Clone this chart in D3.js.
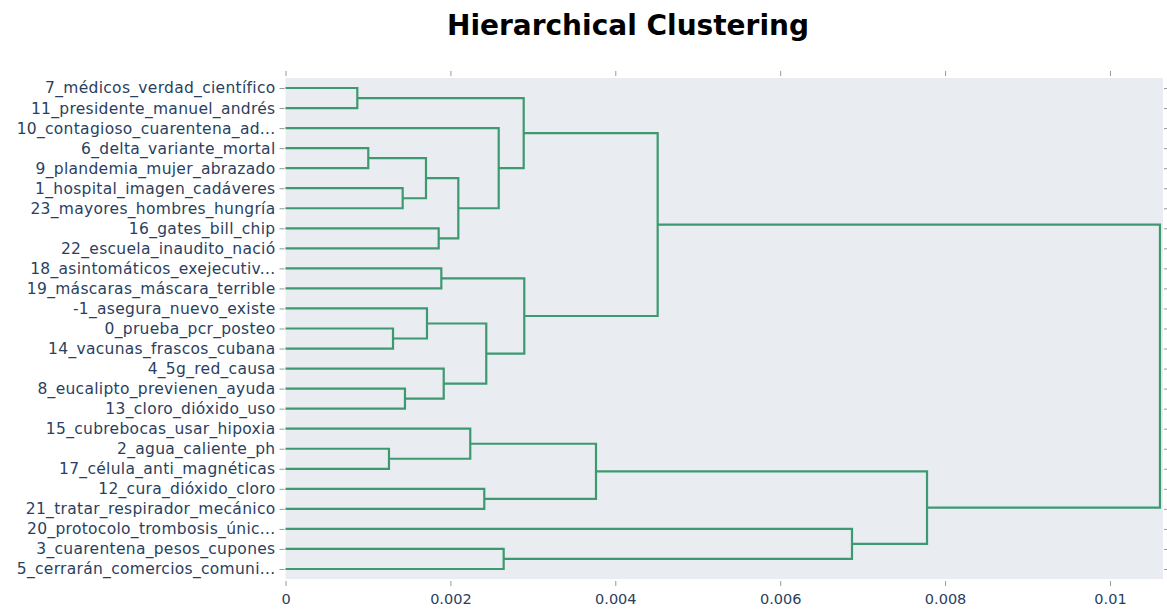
<!DOCTYPE html>
<html>
<head>
<meta charset="utf-8">
<script src="https://cdn.jsdelivr.net/npm/d3@7"></script>
<style>
  body { margin: 0; background: #fff; }
  text { font-family: "DejaVu Sans", Verdana, sans-serif; }
</style>
</head>
<body>
<div id="chart"></div>
<script>
// hojas del dendrograma, de arriba hacia abajo
const leaves = [
  "7_médicos_verdad_científico",
  "11_presidente_manuel_andrés",
  "10_contagioso_cuarentena_ad...",
  "6_delta_variante_mortal",
  "9_plandemia_mujer_abrazado",
  "1_hospital_imagen_cadáveres",
  "23_mayores_hombres_hungría",
  "16_gates_bill_chip",
  "22_escuela_inaudito_nació",
  "18_asintomáticos_exejecutiv...",
  "19_máscaras_máscara_terrible",
  "-1_asegura_nuevo_existe",
  "0_prueba_pcr_posteo",
  "14_vacunas_frascos_cubana",
  "4_5g_red_causa",
  "8_eucalipto_previenen_ayuda",
  "13_cloro_dióxido_uso",
  "15_cubrebocas_usar_hipoxia",
  "2_agua_caliente_ph",
  "17_célula_anti_magnéticas",
  "12_cura_dióxido_cloro",
  "21_tratar_respirador_mecánico",
  "20_protocolo_trombosis_únic...",
  "3_cuarentena_pesos_cupones",
  "5_cerrarán_comercios_comuni..."
];

// fusiones : [enfant1, enfant2] (indice feuille ou 25 + n° de fusion)
const mergeChildren = [
  [0, 1], [3, 4], [5, 6], [26, 27], [7, 8], [28, 29], [2, 30], [25, 31],
  [9, 10], [12, 13], [11, 34], [15, 16], [14, 36], [35, 37], [33, 38], [32, 39],
  [18, 19], [17, 41], [20, 21], [42, 43], [23, 24], [22, 45], [44, 46], [40, 47]
];
// distance de chaque fusion
const mergeHeights = [
  0.000871, 0.001004, 0.001421, 0.001704, 0.001858, 0.002096, 0.002586, 0.002889,
  0.001890, 0.001304, 0.001716, 0.001449, 0.001919, 0.002435, 0.002896, 0.004514,
  0.001255, 0.002241, 0.002411, 0.003766, 0.002646, 0.006871, 0.007781, 0.010606
];

const xTicks = [0, 0.002, 0.004, 0.006, 0.008, 0.01];

const W = 1167, H = 609;
const margin = { top: 78, right: 4, bottom: 30, left: 285.5 };
const plotW = W - margin.left - margin.right;
const plotH = H - margin.top - margin.bottom;

const svg = d3.select("#chart").append("svg")
  .attr("width", W)
  .attr("height", H);

svg.append("text")
  .attr("x", 628)
  .attr("y", 35)
  .attr("text-anchor", "middle")
  .style("font-size", "28px")
  .style("font-weight", "bold")
  .style("fill", "#000")
  .text("Hierarchical Clustering");

const g = svg.append("g")
  .attr("transform", `translate(${margin.left},${margin.top})`);

g.append("rect")
  .attr("width", plotW)
  .attr("height", plotH)
  .attr("fill", "#E9EDF1");

// échelles
const xScale = d3.scaleLinear()
  .domain([0, 0.010643])
  .range([0, plotW]);

const yScale = d3.scalePoint()
  .domain(leaves)
  .range([0, plotH])
  .padding(0.5);

// positions des noeuds
const nodeX = leaves.map(() => 0);
const nodeY = leaves.map(d => yScale(d));
mergeChildren.forEach((c, i) => {
  nodeX.push(mergeHeights[i]);
  nodeY.push((nodeY[c[0]] + nodeY[c[1]]) / 2);
});

// liens en U
const links = mergeChildren.map((c, i) => {
  const xm = xScale(mergeHeights[i]);
  return [
    [xScale(nodeX[c[0]]), nodeY[c[0]]],
    [xm, nodeY[c[0]]],
    [xm, nodeY[c[1]]],
    [xScale(nodeX[c[1]]), nodeY[c[1]]]
  ];
});

g.selectAll("path.link")
  .data(links)
  .enter()
  .append("path")
  .attr("class", "link")
  .attr("d", d3.line())
  .attr("fill", "none")
  .attr("stroke", "rgb(61,153,112)")
  .attr("stroke-width", 2.2);

// axes
const tickColor = "#999";
const labelColor = "#2a3f5f";

function styleAxis(sel, showText, size) {
  sel.select(".domain").remove();
  sel.selectAll(".tick line").attr("stroke", tickColor);
  sel.selectAll(".tick text")
    .style("fill", labelColor)
    .style("font-size", size);
  if (!showText) sel.selectAll(".tick text").remove();
}

g.append("g")
  .attr("transform", `translate(0,${plotH + 2})`)
  .call(d3.axisBottom(xScale).tickValues(xTicks).tickFormat(d3.format("~g")).tickSize(5).tickPadding(8))
  .call(s => styleAxis(s, true, "14.5px"));

g.append("g")
  .attr("transform", `translate(0,-2)`)
  .call(d3.axisTop(xScale).tickValues(xTicks).tickSize(5))
  .call(s => styleAxis(s, false));

g.append("g")
  .attr("transform", `translate(-1,0)`)
  .call(d3.axisLeft(yScale).tickSize(5).tickPadding(4))
  .call(s => styleAxis(s, true, "15.5px"))
  .selectAll(".tick text")
  .style("letter-spacing", "0.3px");

g.append("g")
  .attr("transform", `translate(${plotW + 1},0)`)
  .call(d3.axisRight(yScale).tickSize(5))
  .call(s => styleAxis(s, false));
</script>
</body>
</html>
